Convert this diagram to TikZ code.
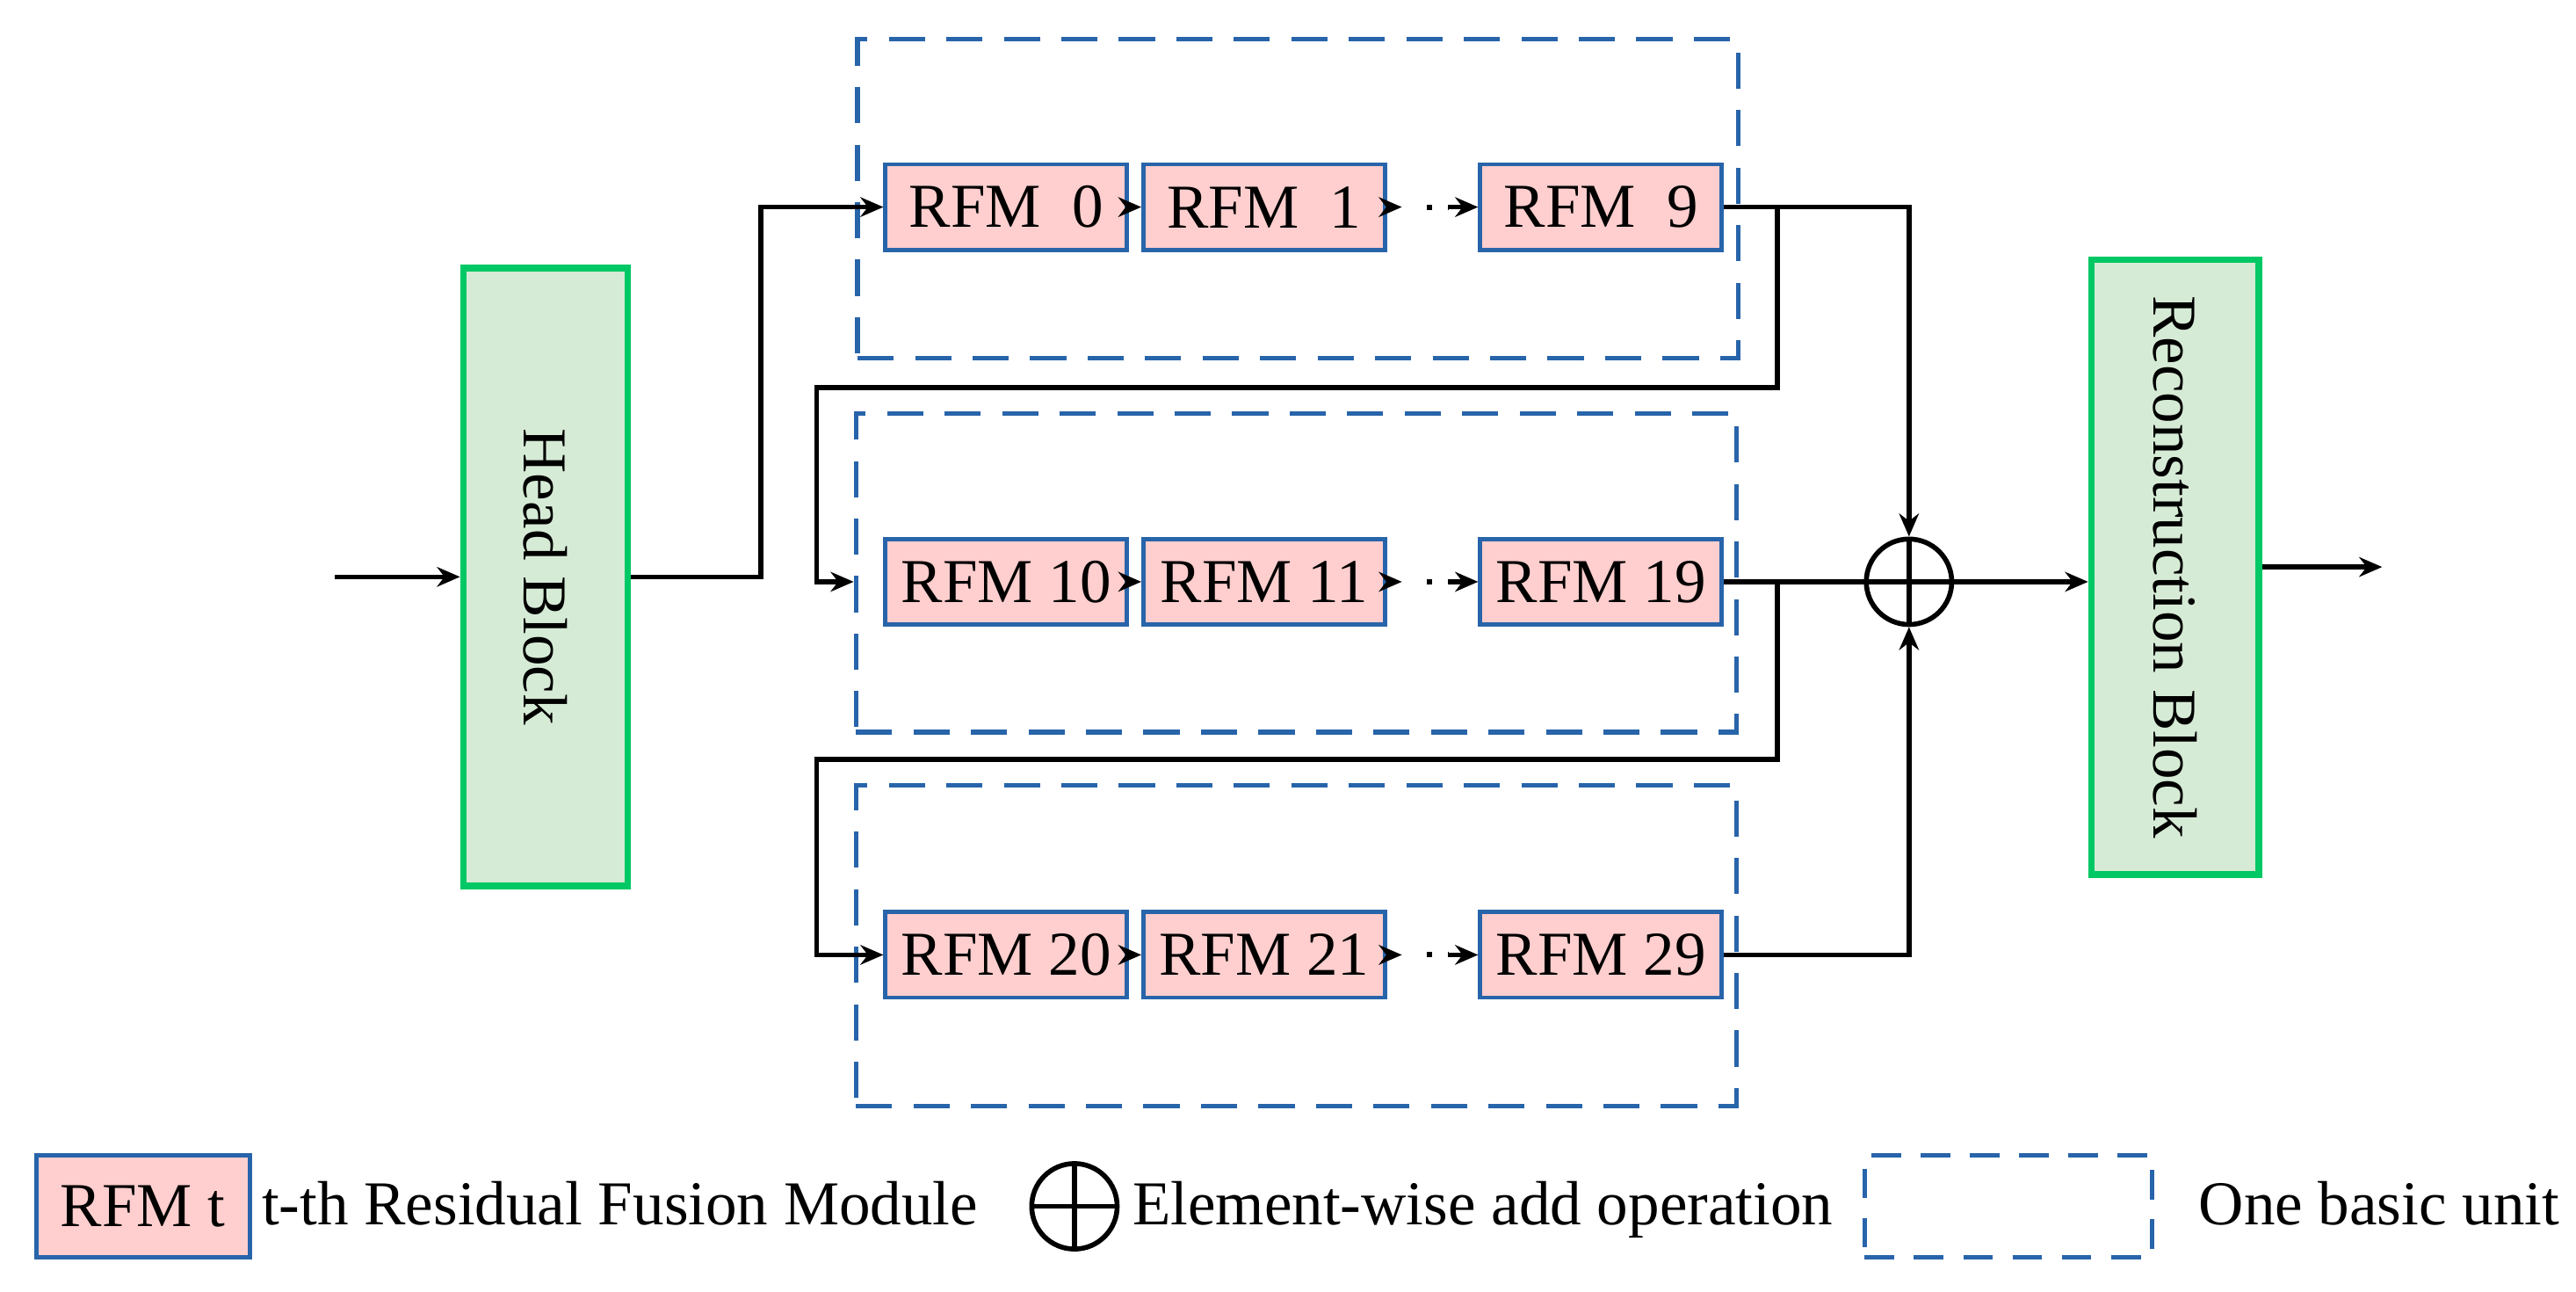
\documentclass[tikz,border=0pt]{standalone}
\usepackage{fontspec}
\setmainfont{Liberation Serif}
\usetikzlibrary{arrows.meta}
\definecolor{ublue}{RGB}{40,100,170}
\definecolor{rpink}{RGB}{255,206,206}
\definecolor{ggreen}{RGB}{0,200,100}
\definecolor{gfill}{RGB}{214,235,214}
\begin{document}
\begin{tikzpicture}[x=0.5pt,y=-0.5pt,
  every node/.style={font=\fontsize{19}{22}\selectfont},
  rfm/.style={draw=ublue,fill=rpink,line width=1.3pt,minimum width=73.5pt,minimum height=26pt,inner sep=0pt},
  unitbox/.style={draw=ublue,line width=1.4pt,dash pattern=on 11pt off 6.5pt,minimum width=268pt,minimum height=97pt,inner sep=0pt},
  bigblock/.style={draw=ggreen,fill=gfill,line width=2pt,minimum width=50pt,minimum height=188pt,inner sep=0pt},
  vtext/.style={rotate=-90},
  conn/.style={line width=1.5pt,black},
  arr/.style={conn,-{Stealth[length=7pt,width=6pt]}},
  addop/.style={circle,draw,line width=1.5pt,minimum size=26pt,inner sep=0pt}
]
\useasboundingbox (0,0) rectangle (1568,786);
% big blocks
\node[bigblock] (head) at (332,351) {};
\node[vtext] (headt) at (head.center) {Head Block};
\node[bigblock,minimum width=51pt,minimum height=187pt] (rec) at (1324,345) {};
\node[vtext] (rect) at (rec.center) {Reconstruction Block};
% unit boxes
\node[unitbox] (u1) at (790,121) {};
\node[unitbox] (u2) at (789,348.5) {};
\node[unitbox,minimum height=97.5pt] (u3) at (789,575.5) {};
% RFM rows
\node[rfm] (r0) at (612.5,126) {RFM~~0};
\node[rfm] (r1) at (769.5,126) {RFM~~1};
\node[rfm] (r9) at (974.5,126) {RFM~~9};
\node[rfm] (r10) at (612.5,354) {RFM 10};
\node[rfm] (r11) at (769.5,354) {RFM 11};
\node[rfm] (r19) at (974.5,354) {RFM 19};
\node[rfm] (r20) at (612.5,581) {RFM 20};
\node[rfm] (r21) at (769.5,581) {RFM 21};
\node[rfm] (r29) at (974.5,581) {RFM 29};
% add operation
\node[addop] (add) at (1162,354) {};
\draw[conn] (add.north) -- (add.south);
% input / output
\coordinate (in) at (204,351);
\coordinate (out) at (1450,345);
\draw[arr] (in) -- (head.west);
\draw[arr] (rec.east) -- (out);
% head to unit 1
\draw[arr] (head.east) -- ++(79,0) |- (r0.west);
% chains within units
\foreach \a/\b in {r0/r1,r10/r11,r20/r21}{
  \draw[arr] (\a.east) -- (\b.west);
}
\foreach \a/\b in {r1/r9,r11/r19,r21/r29}{
  \draw[arr] (\a.east) -- ++(9,0);
  \draw[conn,line width=1.6pt,dash pattern=on 1.6pt off 5pt] ([xshift=12pt]\a.east) -- ([xshift=-9pt]\b.west);
  \draw[arr] ([xshift=-9pt]\b.west) -- (\b.west);
}
% unit outputs
\draw[arr] (r9.east) -| (add.north);
\draw[conn] (r19.east) -- (add.west) -- (add.east);
\draw[arr] (add.east) -- (add.east -| rec.west);
\draw[arr] (r29.east) -| (add.south);
% feedback to next units
\coordinate (b1) at (1082,126);
\coordinate (b2) at (1082,354);
\draw[arr] (b1) -- (1082,236) -- (497,236) |- (u2.west |- r10.west);
\draw[arr] (b2) -- (1082,462) -- (497,462) |- (r20.west);
% legend
\node[rfm,minimum width=65pt,minimum height=31pt] (lr) at (87,734) {RFM t};
\node[anchor=base west,inner sep=0pt] (lrt) at (159,745) {t-th Residual Fusion Module};
\node[addop] (la) at (654,734) {};
\draw[conn] (la.north) -- (la.south);
\draw[conn] (la.west) -- (la.east);
\node[anchor=base west,inner sep=0pt] (lat) at (689,745) {Element-wise add operation};
\node[unitbox,minimum width=87.5pt,minimum height=31pt,dash pattern=on 9pt off 6pt] (lu) at (1222.5,734) {};
\node[anchor=base west,inner sep=0pt] (lut) at (1338,745) {One basic unit};
\end{tikzpicture}
\end{document}
